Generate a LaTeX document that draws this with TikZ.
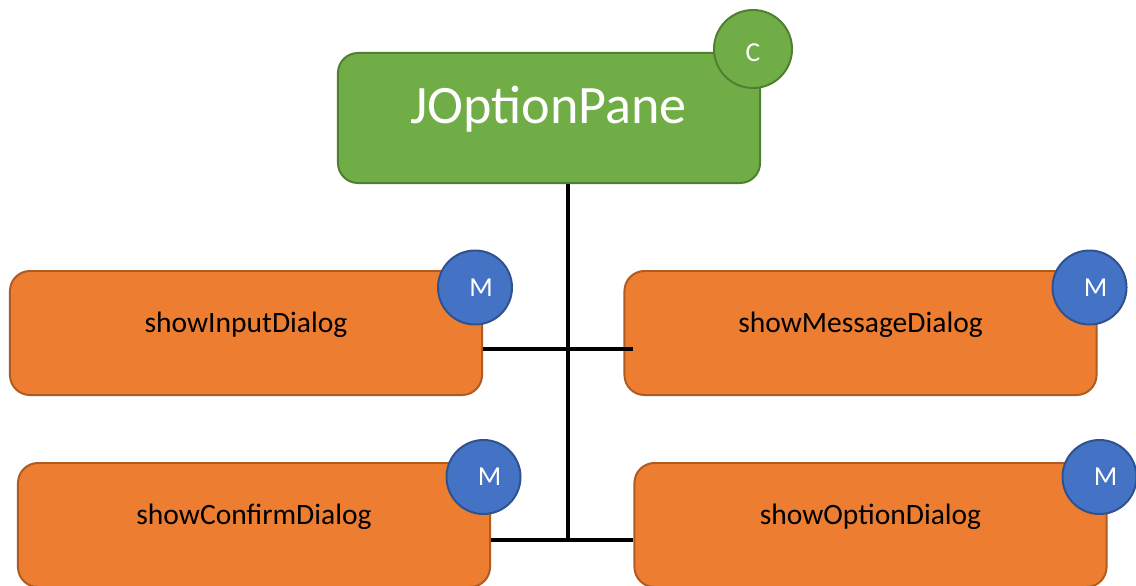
\documentclass[tikz,border=0pt]{standalone}
\usepackage{fontspec}
\setmainfont{Carlito}
\usepackage{xcolor}
\usetikzlibrary{positioning}
\definecolor{rootgreen}{HTML}{70AD47}
\definecolor{rootedge}{HTML}{507E32}
\definecolor{boxorange}{HTML}{ED7D31}
\definecolor{boxedge}{HTML}{AE5A21}
\definecolor{tagblue}{HTML}{4472C4}
\definecolor{tagedge}{HTML}{2F528F}

\begin{document}
\begin{tikzpicture}[x=0.025cm, y=-0.025cm,
  root/.style={rectangle, rounded corners=0.5cm, fill=rootgreen, draw=rootedge,
    line width=1.4pt, minimum width=10.55cm, minimum height=3.25cm},
  method/.style={rectangle, rounded corners=0.5cm, fill=boxorange, draw=boxedge,
    line width=1.4pt, minimum width=11.8cm, minimum height=3.1cm},
  mtext/.style={anchor=base, font=\fontsize{21}{25}\selectfont},
  tagtext/.style={text=white, font=\fontsize{19.5}{23}\selectfont},
  tag/.style={circle, minimum size=1.85cm, inner sep=0pt, line width=1.4pt},
  ctag/.style={tag, minimum size=1.95cm, fill=rootgreen, draw=rootedge,
    label={[tagtext, yshift=-0.08cm]center:C}},
  mtag/.style={tag, fill=tagblue, draw=tagedge,
    label={[tagtext, xshift=0.15cm]center:M}},
  link/.style={line width=2.6pt}]
\useasboundingbox (0,0) rectangle (1136,585);
% класс
\node[root] (pane) at (549,118) {};
\node[anchor=base, text=white, font=\fontsize{38.5}{44}\selectfont] (panetext) at (548.5,123) {JOptionPane};
\node[ctag] (panetag) at (753,49) {};
% методы
\node[method] (input) at (246,333) {};
\node[method] (message) at (860.5,333) {};
\node[method] (confirm) at (254,525) {};
\node[method] (option) at (870.5,525) {};
\node[mtext] (inputtext) at (246,332) {showInputDialog};
\node[mtext] (messagetext) at (860.5,332) {showMessageDialog};
\node[mtext] (confirmtext) at (254,524) {showConfirmDialog};
\node[mtext] (optiontext) at (870.5,524) {showOptionDialog};
% метки
\node[mtag] (inputtag) at (475,287.5) {};
\node[mtag] (messagetag) at (1089.5,287.5) {};
\node[mtag] (confirmtag) at (483.5,477) {};
\node[mtag] (optiontag) at (1099.5,477) {};
% линии
\coordinate (upjoin) at (568,349);
\coordinate (lowjoin) at (568,540);
\draw[link] (pane.south -| upjoin) -- (lowjoin);
\draw[link] (input.east |- upjoin) -- ([xshift=0.25cm]message.west |- upjoin);
\draw[link] (confirm.east |- lowjoin) -- (option.west |- lowjoin);
\end{tikzpicture}
\end{document}
